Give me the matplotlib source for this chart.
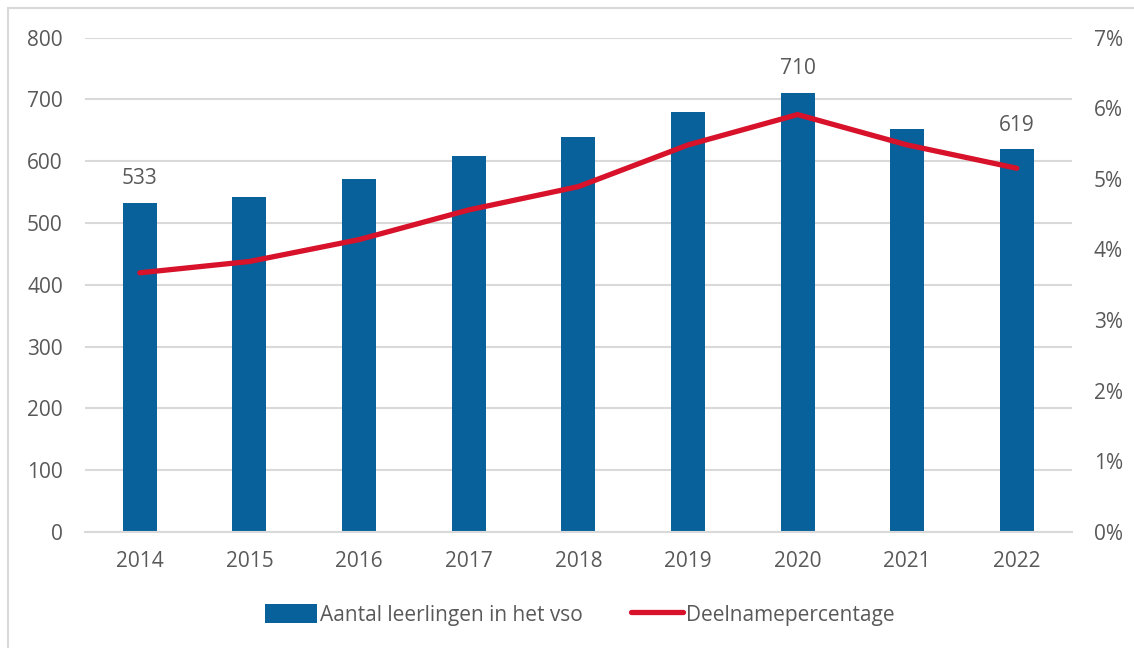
import matplotlib
matplotlib.use("Agg")
from matplotlib import pyplot as plt
from matplotlib.patches import Rectangle
from matplotlib.ticker import FuncFormatter

years = ["2014", "2015", "2016", "2017", "2018", "2019", "2020", "2021", "2022"]
leerlingen = [533, 542, 571, 608, 639, 680, 710, 652, 619]
percentage = [3.67, 3.83, 4.14, 4.56, 4.89, 5.48, 5.91, 5.48, 5.15]
labelled = {"2014": 533, "2020": 710, "2022": 619}

blue = "#08619A"
red = "#D7122A"
grey = "#595959"

plt.rcParams["font.family"] = ["Open Sans", "DejaVu Sans"]

fig = plt.figure(figsize=(11.34, 6.48), dpi=100)
ax = fig.add_axes([0.075, 0.179, 0.87, 0.763])
ax2 = ax.twinx()

x = list(range(len(years)))
bars = ax.bar(x, leerlingen, width=0.31, color=blue, zorder=2,
              label="Aantal leerlingen in het vso")
line, = ax2.plot(x, percentage, color=red, linewidth=3.8, solid_capstyle="round",
                 label="Deelnamepercentage", zorder=3)

# data labels only on a few bars
for i, year in enumerate(years):
    if year in labelled:
        ax.annotate(str(labelled[year]), (i, leerlingen[i]), xytext=(0, 10),
                    textcoords="offset points", ha="center", va="bottom",
                    fontsize=15, color=grey)

ax.set_xlim(-0.5, len(years) - 0.5)
ax.set_ylim(0, 800)
ax.set_yticks(range(0, 801, 100))
ax2.set_ylim(0, 7)
ax2.set_yticks(range(0, 8))
ax2.yaxis.set_major_formatter(FuncFormatter(lambda v, p: f"{int(v)}%"))

ax.set_xticks(x)
ax.set_xticklabels(years)
ax.yaxis.grid(True, color="#D9D9D9", linewidth=1.5, zorder=0)
ax.set_axisbelow(True)

for a in (ax, ax2):
    for s in a.spines.values():
        s.set_visible(False)
    a.tick_params(length=0, labelsize=15, labelcolor=grey)
ax.spines["bottom"].set_visible(True)
ax.spines["bottom"].set_color("#D9D9D9")
ax.spines["bottom"].set_linewidth(1.5)
ax.tick_params(axis="y", pad=16)
ax.tick_params(axis="x", pad=14)
ax2.tick_params(axis="y", pad=16)

# legend
fig.legend(handles=[bars, line], loc="center", bbox_to_anchor=(0.5115, 0.051), ncol=2,
           frameon=False, fontsize=15, labelcolor=grey, handlelength=2.5,
           handletextpad=0.15, columnspacing=2.3, handleheight=1.0)

# light border around the chart area
fig.patches.append(Rectangle((0.007, -0.05), 1.1, 1.037, transform=fig.transFigure,
                             fill=False, edgecolor="#D9D9D9", linewidth=1.5))

fig.savefig("out.png", dpi=100)
